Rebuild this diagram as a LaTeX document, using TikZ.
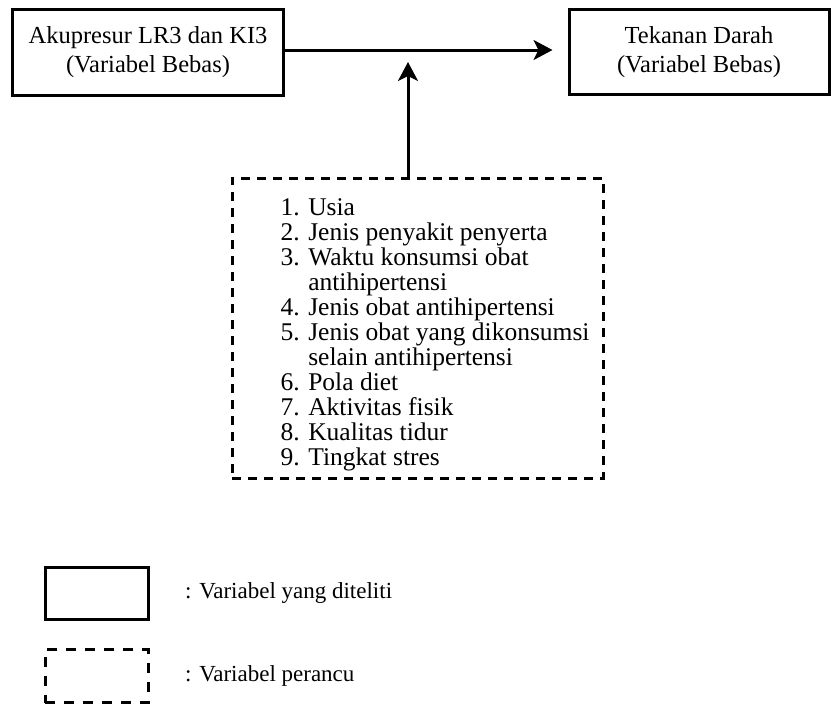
\documentclass[tikz,border=0pt]{standalone}
\usepackage{fontspec}
\setmainfont{Liberation Serif}
\usetikzlibrary{arrows.meta}
\begin{document}
\begin{tikzpicture}[x=1pt,y=-1pt,
  varbox/.style={draw,line width=3pt,align=center,inner sep=0pt,
    font=\fontsize{24.5}{28.5}\selectfont},
  confbox/.style={draw,line width=3pt,dash pattern=on 9pt off 7pt,inner sep=0pt},
  arr/.style={line width=3pt,-{Stealth[length=19pt,width=20pt,inset=5pt]}},
  legtext/.style={anchor=west,inner sep=0pt,font=\fontsize{23}{26}\selectfont}]
\useasboundingbox (0,0) rectangle (831,705);

% variabel yang diteliti
\node (akp) at (148,52) [varbox,minimum width=271pt,minimum height=86pt]
  {Akupresur LR3 dan KI3\\(Variabel Bebas)};
\node (td) at (699,52) [varbox,minimum width=260pt,minimum height=85pt]
  {Tekanan Darah\\(Variabel Bebas)};
\coordinate (m) at (408,50);

% variabel perancu
\node (conf) at (417.5,328) [confbox,minimum width=371pt,minimum height=300pt] {};
\node (list) at ([xshift=50pt,yshift=-7.5pt]conf.west) [anchor=west,inner sep=0pt,
  font=\fontsize{25.5}{24.4}\selectfont]
  {\begin{tabular}{@{}r@{ }l@{}}
   1. & Usia\\
   2. & Jenis penyakit penyerta\\
   3. & Waktu konsumsi obat\\
      & antihipertensi\\
   4. & Jenis obat antihipertensi\\
   5. & Jenis obat yang dikonsumsi\\
      & selain antihipertensi\\
   6. & Pola diet\\
   7. & Aktivitas fisik\\
   8. & Kualitas tidur\\
   9. & Tingkat stres
   \end{tabular}};

\draw[arr,shorten >=15pt] (akp.east |- m) -- (td.west |- m);
\draw[arr,shorten >=12pt] (conf.north -| m) -- (m);

% keterangan
\node (legvar) at (96.5,593) [draw,line width=3pt,minimum width=103pt,minimum height=52pt] {};
\node (legconf) at (96.5,676) [confbox,dash pattern=on 10pt off 9pt,minimum width=103pt,minimum height=53pt] {};
\node at (185,593) [legtext] {: Variabel yang diteliti};
\node at (185,676) [legtext] {: Variabel perancu};
\end{tikzpicture}
\end{document}
